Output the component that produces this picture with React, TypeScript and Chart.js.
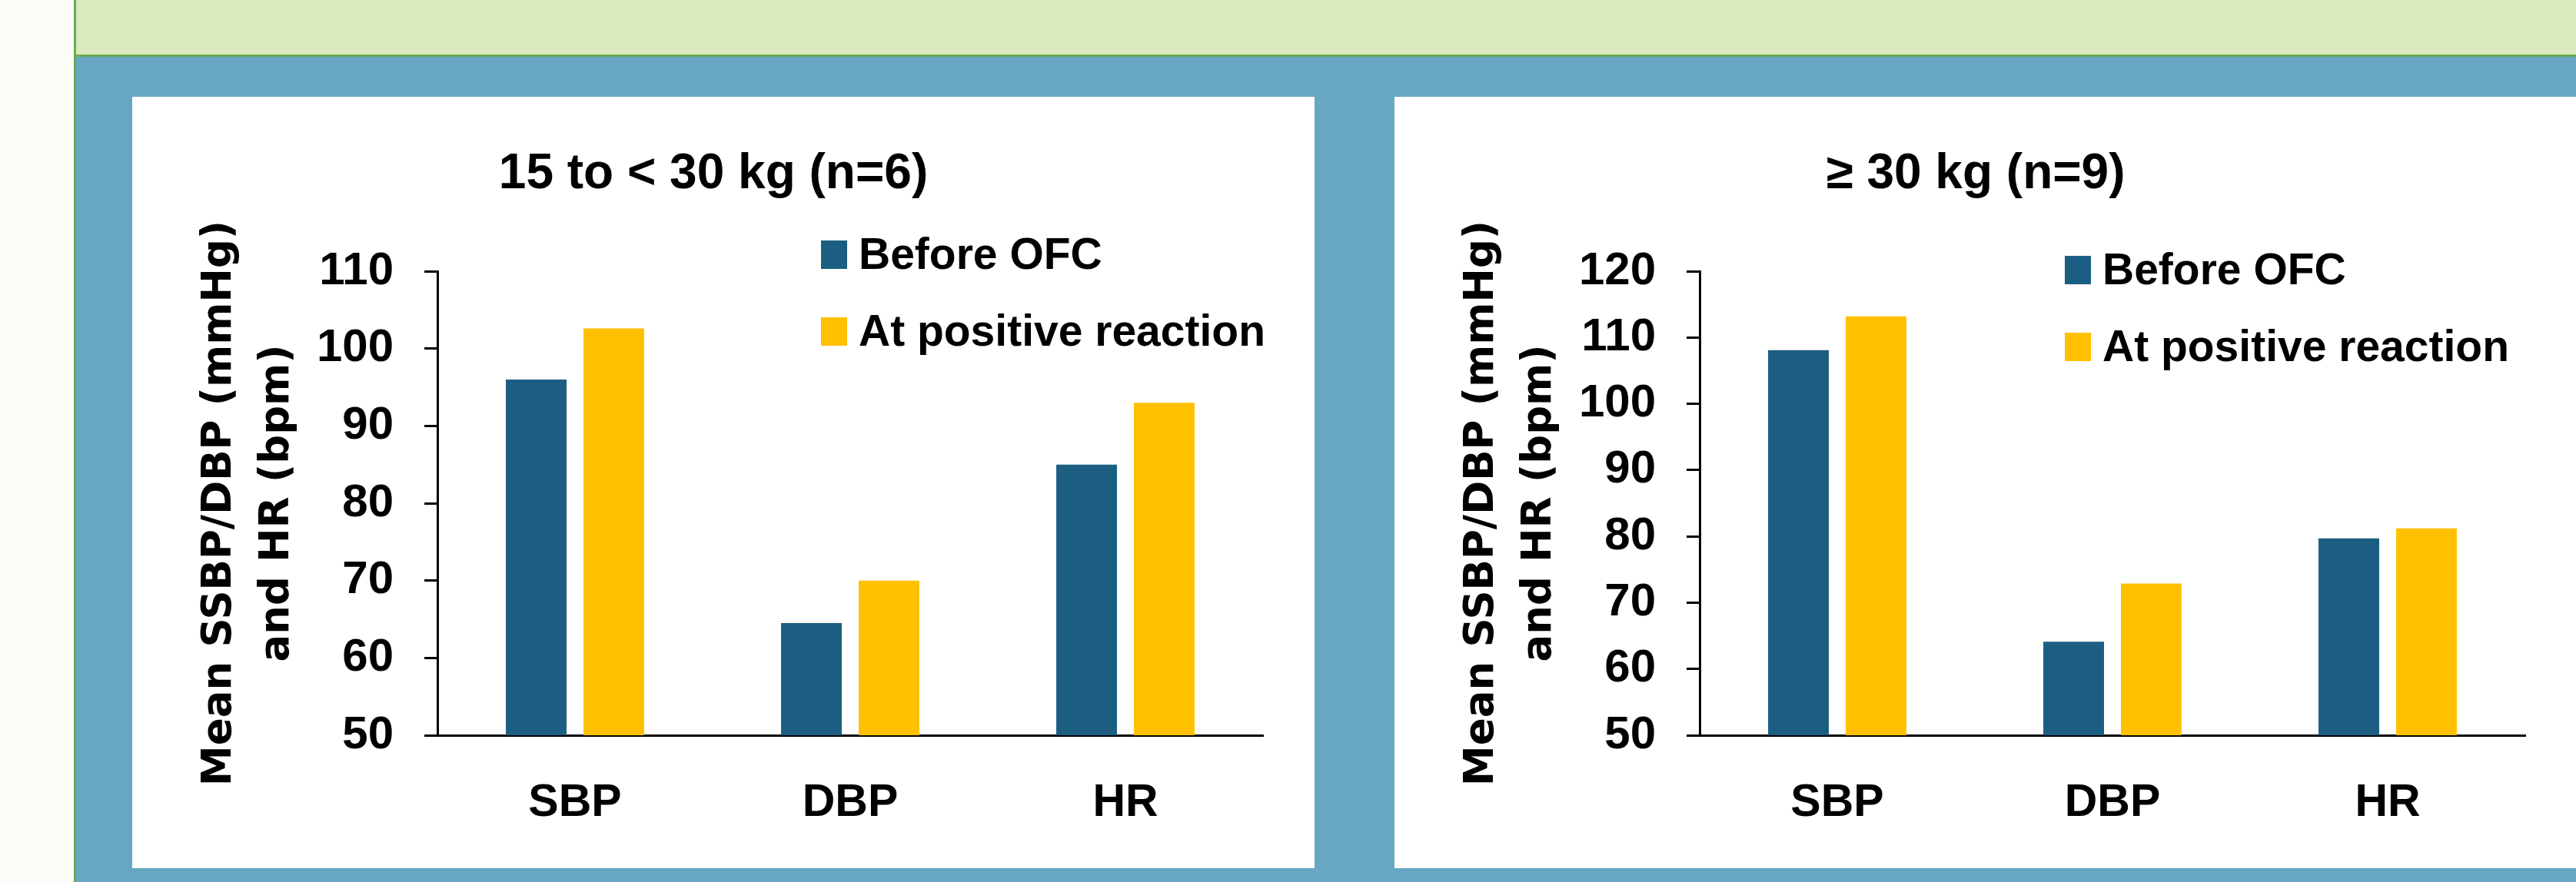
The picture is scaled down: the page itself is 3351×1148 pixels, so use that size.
import React, { useEffect, useRef } from 'react';
import { Chart, registerables } from 'chart.js';

Chart.register(...registerables);

// ---------- data ----------
const categories = ['SBP', 'DBP', 'HR'];
const seriesNames = ['Before OFC', 'At positive reaction'];
const lightBefore = [96.0, 64.5, 85.0];
const lightAfter = [102.6, 70.0, 93.0];
const heavyBefore = [108.1, 64.1, 79.7];
const heavyAfter = [113.2, 72.9, 81.2];
const panelTitles = ['15 to < 30 kg (n=6)', '\u2265 30 kg (n=9)'];
const yTitleLines = ['Mean SSBP/DBP (mmHg)', 'and HR (bpm)'];
const yMin = 50;
const yMaxes = [110, 120];
const yStep = 10;

// ---------- styles ----------
const BLUE = '#1B5E82';
const GOLD = '#FFC000';
const BG_BLUE = '#67A7C4';
const BAND_GREEN = '#DAE9BE';
const LINE_GREEN = '#6AAB4F';
const STRIP = '#FBFCF7';
const SANS = '"Liberation Sans", Arial, sans-serif';
const WIDE = '"DejaVu Sans", Verdana, sans-serif';

const PANEL_W = 1538;
const PANEL_H = 1004;

const boxLegend = {
  id: 'boxLegend',
  afterDraw(chart: any, _args: any, opts: any) {
    const ctx = chart.ctx;
    ctx.save();
    chart.data.datasets.forEach((ds: any, i: number) => {
      const y = opts.y + i * opts.rowGap;
      ctx.fillStyle = ds.backgroundColor;
      ctx.fillRect(opts.x, y, opts.boxW, opts.boxH);
      ctx.fillStyle = '#000';
      ctx.font = `bold ${opts.fontSize}px ${SANS}`;
      ctx.textAlign = 'left';
      ctx.textBaseline = 'alphabetic';
      ctx.fillText(ds.label, opts.x + opts.boxW + opts.gap, y + opts.boxH);
    });
    ctx.restore();
  },
};

type PanelProps = {
  title: string;
  before: number[];
  after: number[];
  yMax: number;
  legendX: number;
  legendY: number;
};

function Panel({ title, before, after, yMax, legendX, legendY }: PanelProps) {
  const ref = useRef<HTMLCanvasElement | null>(null);
  useEffect(() => {
    if (!ref.current) return;
    const chart = new Chart(ref.current, {
      type: 'bar',
      data: {
        labels: categories,
        datasets: [
          { label: seriesNames[0], data: before, backgroundColor: BLUE, borderWidth: 0, categoryPercentage: 0.564, barPercentage: 0.782 },
          { label: seriesNames[1], data: after, backgroundColor: GOLD, borderWidth: 0, categoryPercentage: 0.564, barPercentage: 0.782 },
        ],
      },
      options: {
        responsive: false,
        animation: false,
        devicePixelRatio: 1,
        layout: { padding: { left: 41, right: 67, top: 0, bottom: 0 } },
        plugins: {
          legend: { display: false },
          tooltip: { enabled: false },
          title: {
            display: true,
            text: title,
            color: '#000',
            font: { family: SANS, size: 64, weight: 'bold', lineHeight: 1.2 },
            padding: { top: 62.6, bottom: 87.6 },
          },
          boxLegend: { x: legendX, y: legendY, boxW: 34, boxH: 37, gap: 15, rowGap: 100, fontSize: 57 },
        } as any,
        scales: {
          x: {
            grid: { display: false },
            border: { display: true, color: '#000', width: 3 },
            ticks: { color: '#000', padding: 45, font: { family: SANS, size: 59, weight: 'bold' } },
            afterFit: (s: any) => { s.height = 173; },
          },
          y: {
            min: yMin,
            max: yMax,
            ticks: { stepSize: yStep, color: '#000', padding: 40, font: { family: SANS, size: 60, weight: 'bold' } },
            grid: { drawOnChartArea: false, drawTicks: true, tickLength: 17, color: '#000', lineWidth: 3 },
            border: { display: true, color: '#000', width: 3 },
            title: {
              display: true,
              text: yTitleLines,
              color: '#000',
              font: { family: WIDE, size: 53, weight: 'bold', lineHeight: 75 / 53 },
              padding: { top: 35.5, bottom: 0 },
            },
            afterFit: (s: any) => { s.width = 356; },
          },
        },
      },
      plugins: [boxLegend],
    } as any);
    return () => chart.destroy();
  }, [title, before, after, yMax, legendX, legendY]);
  return (
    <canvas
      ref={ref}
      width={PANEL_W}
      height={PANEL_H}
      style={{ display: 'block', width: PANEL_W, height: PANEL_H }}
    />
  );
}

export default function App() {
  return (
    <div style={{ position: 'fixed', left: 0, top: 0, width: 3351, height: 1148, overflow: 'hidden', background: BG_BLUE }}>
      <div style={{ position: 'absolute', left: 0, top: 0, width: 96, height: 1148, background: STRIP }} />
      <div style={{ position: 'absolute', left: 96, top: 0, width: 3255, height: 71, background: BAND_GREEN, borderBottom: `3px solid ${LINE_GREEN}` }} />
      <div style={{ position: 'absolute', left: 96, top: 0, width: 3, height: 1148, background: LINE_GREEN }} />
      <div style={{ position: 'absolute', left: 172, top: 126, width: PANEL_W, height: PANEL_H, background: '#fff' }}>
        <Panel title={panelTitles[0]} before={lightBefore} after={lightAfter} yMax={yMaxes[0]} legendX={896} legendY={187} />
      </div>
      <div style={{ position: 'absolute', left: 1814, top: 126, width: PANEL_W, height: PANEL_H, background: '#fff' }}>
        <Panel title={panelTitles[1]} before={heavyBefore} after={heavyAfter} yMax={yMaxes[1]} legendX={872} legendY={207} />
      </div>
    </div>
  );
}
